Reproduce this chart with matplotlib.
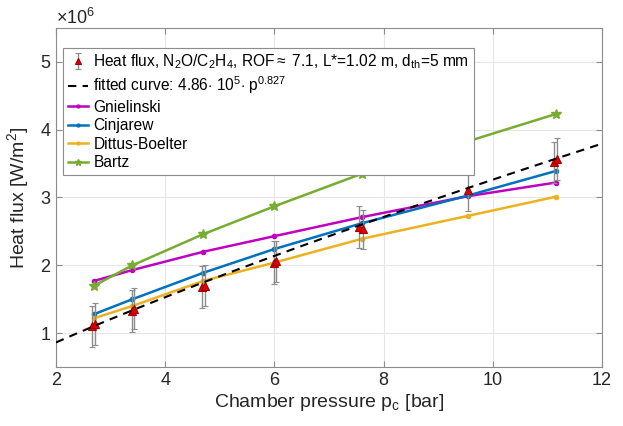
import numpy as np
import matplotlib
matplotlib.use("Agg")
import matplotlib.pyplot as plt
from matplotlib.ticker import ScalarFormatter

plt.rcParams['font.family'] = ['Liberation Sans', 'DejaVu Sans']
plt.rcParams['mathtext.fontset'] = 'custom'
plt.rcParams['mathtext.rm'] = 'Liberation Sans'
plt.rcParams['mathtext.it'] = 'Liberation Sans'

# Chamber pressure of the correlation evaluations [bar]
p_model = [2.7, 3.4, 4.7, 6.0, 7.6, 9.55, 11.15]
q_gnielinski = [1.77e6, 1.93e6, 2.20e6, 2.43e6, 2.71e6, 3.02e6, 3.22e6]
q_cinjarew = [1.28e6, 1.50e6, 1.89e6, 2.24e6, 2.62e6, 3.03e6, 3.39e6]
q_dittus = [1.22e6, 1.40e6, 1.77e6, 2.04e6, 2.39e6, 2.73e6, 3.01e6]
q_bartz = [1.70e6, 2.00e6, 2.46e6, 2.87e6, 3.35e6, 3.83e6, 4.23e6]

# Measured heat flux with uncertainty
p_meas = [2.66, 2.72, 3.39, 3.42, 4.68, 4.72, 6.00, 6.03, 7.55, 7.62, 9.55, 11.12, 11.17]
q_meas = [1.10e6, 1.14e6, 1.33e6, 1.36e6, 1.68e6, 1.70e6, 2.04e6, 2.06e6, 2.56e6, 2.53e6, 3.11e6, 3.52e6, 3.57e6]
q_err = [0.30e6, 0.31e6, 0.31e6, 0.30e6, 0.31e6, 0.30e6, 0.32e6, 0.30e6, 0.31e6, 0.29e6, 0.31e6, 0.30e6, 0.31e6]

# Fitted power law q = a * p^b
fit_a = 4.86e5
fit_b = 0.827

fig = plt.figure(figsize=(6.23, 4.26), dpi=100)
ax = fig.add_axes([0.0899, 0.1385, 0.8764, 0.7958])

c_gn = '#C000C0'
c_ci = '#0072BD'
c_di = '#EDB120'
c_ba = '#77AC30'

eb = ax.errorbar(p_meas, q_meas, yerr=q_err, fmt='^', color='#E00000', mec='#A00000',
                 ms=6, mew=0.8, ecolor='#8C8C8C', elinewidth=1.0, capsize=2.5, capthick=0.8,
                 zorder=5,
                 label=r'Heat flux, N$_2$O/C$_2$H$_4$, ROF$\approx$ 7.1, L*=1.02 m, d$_{\rm th}$=5 mm')

p_fit = np.linspace(2, 12, 200)
ln_fit, = ax.plot(p_fit, fit_a * p_fit ** fit_b, '--', color='black', lw=1.5, dashes=(4, 3), zorder=6,
                  label=r'fitted curve: 4.86$\cdot$ 10$^5$$\cdot$ p$^{0.827}$')

ln_gn, = ax.plot(p_model, q_gnielinski, '-', marker='.', ms=6, color=c_gn, lw=1.8, label='Gnielinski', zorder=4)
ln_ci, = ax.plot(p_model, q_cinjarew, '-', marker='.', ms=6, color=c_ci, lw=1.8, label='Cinjarew', zorder=4)
ln_di, = ax.plot(p_model, q_dittus, '-', marker='.', ms=6, color=c_di, lw=1.8, label='Dittus-Boelter', zorder=4)
ln_ba, = ax.plot(p_model, q_bartz, '-', marker='*', ms=7, color=c_ba, lw=1.8, label='Bartz', zorder=4)

ax.set_xlim(2, 12)
ax.set_ylim(0.5e6, 5.5e6)
ax.set_xticks([2, 4, 6, 8, 10, 12])
ax.set_yticks([1e6, 2e6, 3e6, 4e6, 5e6])

fmt = ScalarFormatter(useMathText=True)
fmt.set_powerlimits((0, 0))
ax.yaxis.set_major_formatter(fmt)
ax.yaxis.get_offset_text().set_fontsize(13)
ax.yaxis.get_offset_text().set_color('#262626')

ax.grid(True, color='#E6E6E6', lw=0.8)
ax.set_axisbelow(True)
for s in ax.spines.values():
    s.set_color('#8C8C8C')
    s.set_linewidth(0.8)
ax.tick_params(direction='in', colors='#262626', labelsize=13, length=4,
               top=True, right=True)
ax.tick_params(axis='both', which='both', color='#8C8C8C')

ax.set_xlabel(r'Chamber pressure p$_{\rm c}$ [bar]', fontsize=14, color='#262626', labelpad=2)
ax.set_ylabel(r'Heat flux [W/m$^2$]', fontsize=14, color='#262626', labelpad=6)

handles = [eb, ln_fit, ln_gn, ln_ci, ln_di, ln_ba]
leg = ax.legend(handles=handles, labels=[h.get_label() for h in handles],
                loc='upper left', bbox_to_anchor=(0.0128, 0.941), fontsize=11.2,
                frameon=True, fancybox=False, framealpha=1.0, edgecolor='#8C8C8C',
                handlelength=1.3, handletextpad=0.35, borderpad=0.3, labelspacing=0.22,
                borderaxespad=0.0, markerscale=0.7)
leg.get_frame().set_linewidth(0.8)
leg.set_zorder(10)

fig.savefig('out.png', dpi=100)
